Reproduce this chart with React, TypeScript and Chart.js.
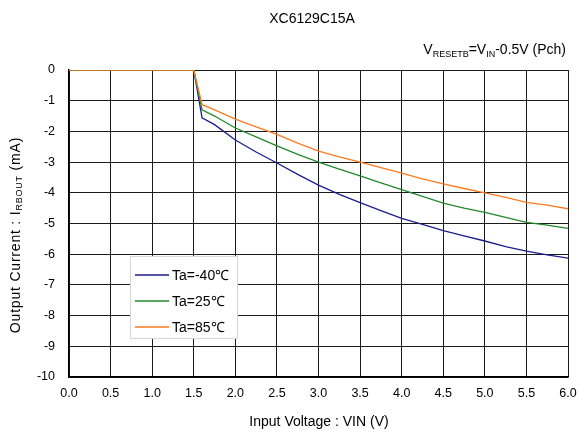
import React, { useEffect, useRef } from "react";
import { Chart, registerables } from "chart.js";

Chart.register(...registerables);

const title = "XC6129C15A";
const xTitle = "Input Voltage : VIN (V)";
const seriesLabels = ["Ta=-40℃", "Ta=25℃", "Ta=85℃"];
const seriesColors = ["#1c1c8e", "#22892a", "#ff7a1f"];

const vin = [0, 0.5, 1.0, 1.5, 1.6, 1.75, 2.0, 2.25, 2.5, 2.75, 3.0, 3.25, 3.5, 3.75, 4.0, 4.25, 4.5, 4.75, 5.0, 5.25, 5.5, 5.75, 6.0];
const iM40 = [0, 0, 0, 0, -1.56, -1.78, -2.28, -2.67, -3.03, -3.4, -3.75, -4.05, -4.32, -4.58, -4.83, -5.03, -5.23, -5.4, -5.57, -5.75, -5.9, -6.02, -6.13];
const i25 = [0, 0, 0, 0, -1.3, -1.5, -1.89, -2.18, -2.47, -2.75, -3.0, -3.23, -3.45, -3.68, -3.9, -4.12, -4.34, -4.5, -4.64, -4.8, -4.96, -5.05, -5.16];
const i85 = [0, 0, 0, 0, -1.13, -1.3, -1.6, -1.85, -2.1, -2.38, -2.64, -2.83, -3.0, -3.18, -3.36, -3.55, -3.71, -3.86, -4.0, -4.15, -4.31, -4.4, -4.52];

const series = [iM40, i25, i85];

const FONT = "Arial, 'Liberation Sans', sans-serif";
const MAIN = 14;
const SUB = 9;

const decorPlugin = {
  id: "decor",
  afterDraw(chart: any) {
    const ctx = chart.ctx;
    ctx.save();
    ctx.fillStyle = "#000";
    // title
    ctx.font = `${MAIN}px ${FONT}`;
    ctx.textAlign = "center";
    ctx.textBaseline = "alphabetic";
    ctx.fillText(title, 312, 23);
    // subtitle with subscripts, right aligned
    const parts: [string, boolean][] = [
      ["V", false], ["RESETB", true], ["=V", false], ["IN", true], ["-0.5V (Pch)", false],
    ];
    const setF = (sub: boolean) => { ctx.font = sub ? `${SUB}px ${FONT}` : `${MAIN}px ${FONT}`; };
    const widthOf = (t: string, sub: boolean) => { setF(sub); return ctx.measureText(t).width; };
    let total = 0;
    for (const [t, s] of parts) total += widthOf(t, s);
    let x = 566 - total;
    ctx.textAlign = "left";
    for (const [t, s] of parts) {
      setF(s);
      ctx.fillText(t, x, s ? 57 : 54);
      x += ctx.measureText(t).width;
    }
    // y-axis title rotated
    const yParts: [string, boolean][] = [
      ["Output Current : I", false], ["RBOUT", true], [" (mA)", false],
    ];
    const ls = 0.8;
    (ctx as any).letterSpacing = `${ls}px`;
    let ytotal = 0;
    for (const [t, s] of yParts) ytotal += widthOf(t, s);
    ctx.save();
    ctx.translate(20, 235);
    ctx.rotate(-Math.PI / 2);
    let yx = -ytotal / 2;
    for (const [t, s] of yParts) {
      setF(s);
      ctx.fillText(t, yx, s ? 2 : 0);
      yx += ctx.measureText(t).width;
    }
    ctx.restore();
    (ctx as any).letterSpacing = "0px";
    // x-axis title
    ctx.font = `${MAIN}px ${FONT}`;
    ctx.textAlign = "center";
    ctx.fillText(xTitle, 319, 426);
    // legend box
    const bx = 130, by = 256, bw = 107, bh = 82;
    ctx.fillStyle = "#fff";
    ctx.fillRect(bx, by, bw, bh);
    ctx.strokeStyle = "#d8d8d8";
    ctx.lineWidth = 1;
    ctx.strokeRect(bx + 0.5, by + 0.5, bw, bh);
    chart.data.datasets.forEach((ds: any, i: number) => {
      const ly = 275 + i * 26;
      ctx.strokeStyle = ds.borderColor;
      ctx.lineWidth = 1.3;
      ctx.beginPath();
      ctx.moveTo(135, ly);
      ctx.lineTo(169, ly);
      ctx.stroke();
      ctx.fillStyle = "#000";
      ctx.font = `${MAIN}px ${FONT}`;
      ctx.textAlign = "left";
      ctx.textBaseline = "middle";
      ctx.fillText(ds.label, 172, ly + 1);
    });
    ctx.restore();
  },
};

export default function App() {
  const ref = useRef<HTMLCanvasElement | null>(null);
  useEffect(() => {
    document.body.style.margin = "0";
    const canvas = ref.current!;
    const chart = new Chart(canvas, {
      type: "line",
      data: {
        datasets: series.map((s, i) => ({
          label: seriesLabels[i],
          data: vin.map((v, j) => ({ x: v, y: s[j] })),
          borderColor: seriesColors[i],
          backgroundColor: seriesColors[i],
          borderWidth: 1.3,
          pointRadius: 0,
          tension: 0,
          fill: false,
          order: 2 - i,
        })),
      },
      options: {
        responsive: false,
        animation: false,
        layout: { padding: { left: 0, right: 10, top: 70, bottom: 0 } },
        plugins: {
          legend: { display: false },
          title: { display: false },
          tooltip: { enabled: false },
        },
        scales: {
          x: {
            type: "linear",
            min: 0,
            max: 6,
            ticks: {
              stepSize: 0.5,
              color: "#000",
              font: { family: FONT, size: 12.5 },
              padding: 9,
              maxRotation: 0,
              autoSkip: false,
              callback: (v: any) => Number(v).toFixed(1),
            },
            grid: { color: "#1a1a1a", lineWidth: 1, drawTicks: false },
            border: { color: "#000", width: 1.5 },
            afterFit: (s: any) => {
              s.height = 55;
              s.paddingRight = 0;
              s.paddingLeft = 0;
            },
          },
          y: {
            type: "linear",
            min: -10,
            max: 0,
            ticks: {
              stepSize: 1,
              color: "#000",
              font: { family: FONT, size: 12.5 },
              padding: 14,
              autoSkip: false,
            },
            grid: { color: "#1a1a1a", lineWidth: 1, drawTicks: false },
            border: { color: "#000", width: 1.5 },
            afterFit: (s: any) => {
              s.width = 69;
              s.paddingTop = 0;
              s.paddingBottom = 0;
            },
          },
        },
      },
      plugins: [decorPlugin],
    });
    return () => chart.destroy();
  }, []);
  return (
    <div style={{ width: 578, height: 432, background: "#fff" }}>
      <canvas ref={ref} width={578} height={432} style={{ display: "block" }} />
    </div>
  );
}
